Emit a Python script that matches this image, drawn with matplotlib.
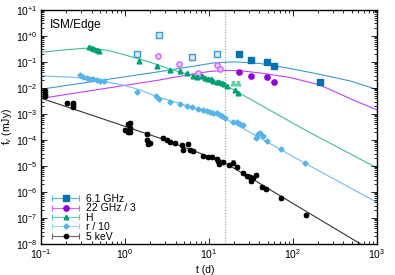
import numpy as np
import matplotlib
matplotlib.use("Agg")
import matplotlib.pyplot as plt
from matplotlib.ticker import FuncFormatter, LogLocator, NullFormatter
from matplotlib.legend_handler import HandlerErrorbar
from matplotlib.container import ErrorbarContainer

plt.rcParams["font.family"] = ["Liberation Sans", "DejaVu Sans"]
plt.rcParams["mathtext.fontset"] = "custom"
plt.rcParams["mathtext.rm"] = "Liberation Sans"
plt.rcParams["mathtext.it"] = "Liberation Sans:italic"
plt.rcParams["mathtext.bf"] = "Liberation Sans:bold"

# ---------------- data ----------------
radio6_t = [22.8, 31.6, 49, 59, 210]
radio6_f = [0.204, 0.116, 0.097, 0.072, 0.0166]
radio6_open_t = [1.38, 2.54, 6.3, 12.5]
radio6_open_f = [0.198, 1.09, 0.152, 0.198]

radio22_t = [22.8, 31.6, 49, 59]
radio22_f = [0.0412, 0.029, 0.0272, 0.0175]
radio22_open_t = [2.44, 4.45, 7.4, 12.4, 13.5]
radio22_open_f = [0.17, 0.0816, 0.036, 0.0767, 0.052]

H_t = [0.372, 0.401, 0.431, 0.46, 0.495, 1.48, 2.43, 3.43, 4.5, 5.42, 6.4, 7.26,
       8.19, 8.96, 9.81, 10.5, 11.2, 12.4, 13.3, 14.2, 15.2, 16.2, 20.4, 22.3]
H_f = [0.367, 0.337, 0.316, 0.296, 0.272, 0.112, 0.068, 0.0506, 0.0438, 0.038, 0.0297, 0.0272,
       0.029, 0.0249, 0.0228, 0.0222, 0.0186, 0.0175, 0.0166, 0.0151, 0.0143, 0.0119, 0.0084, 0.0065]
H_open_t = [19.5, 22.0]
H_open_f = [0.016, 0.016]

r_t = [0.291, 0.319, 0.35, 0.383, 0.42, 0.46, 0.504, 0.567, 1.40, 2.34, 2.56, 3.43, 4.51,
       5.42, 6.27, 7.5, 8.5, 9.4, 10.3, 11.2, 12.3, 13.5, 14.5, 15.7, 19.4, 21.3, 23.4,
       25.6, 36.8, 38.6, 40.4, 44.3, 48.6, 72, 141]
r_f = [0.0308, 0.0272, 0.0249, 0.0228, 0.0216, 0.0203, 0.0191, 0.0181, 0.00684, 0.0049,
       0.0038, 0.0029, 0.0024, 0.00204, 0.00178, 0.00153, 0.00139, 0.00134, 0.00123,
       0.00112, 0.00106, 0.00094, 0.00084, 0.00072, 0.000506, 0.00048, 0.000424,
       0.000389, 0.000116, 0.00017, 0.00018, 0.000141, 0.0000912, 0.0000437, 0.000013]

xray_t = [0.112, 0.112, 0.112, 0.202, 0.243, 0.243, 0.243, 1.0, 1.09, 1.09, 1.15, 1.15, 1.15,
          1.81, 1.81, 1.89, 1.98, 2.86, 3.14, 3.43, 3.94, 4.73, 4.94, 5.66, 5.94, 6.5,
          8.55, 9.8, 10.8, 12.35, 12.9, 13.3, 14.8, 17.5, 19.2, 21.3, 25.2, 28.5, 30.7,
          33.6, 36.2, 32.0, 42.4, 47.6, 71.3, 145]
xray_f = [7.3e-3, 5.9e-3, 4.9e-3, 2.58e-3, 2.6e-3, 2.2e-3, 1.86e-3, 2.43e-4, 4.1e-4, 1.95e-4,
          4.5e-4, 2.9e-4, 2.04e-4, 1.7e-4, 1.0e-4, 7.0e-5, 7.5e-5, 1.16e-4, 1.0e-4, 8.6e-5,
          7.9e-5, 6.4e-5, 4.1e-5, 7.0e-5, 4.1e-5, 3.8e-5, 2.43e-5, 2.16e-5, 2.16e-5, 1.86e-5,
          1.6e-5, 1.2e-5, 1.46e-5, 1.1e-5, 1.35e-5, 8.9e-6, 5.2e-6, 4.1e-6, 3.7e-6, 3.4e-6,
          4.5e-6, 2.7e-6, 1.6e-6, 1.26e-6, 6.0e-7, 1.3e-7]

# model curves
m6_t = [0.1, 0.504, 2.61, 6.27, 11.8, 20.4, 40.4, 91.8, 209, 479, 1000]
m6_f = [8.9e-3, 0.0193, 0.0424, 0.067, 0.093, 0.1, 0.0875, 0.0562, 0.0331, 0.0186, 8.75e-3]
m22_t = [0.1, 0.504, 2.61, 5.95, 10.3, 15.5, 23.4, 40.4, 91.8, 209, 520, 1000]
m22_f = [3.95e-3, 8.9e-3, 0.0203, 0.033, 0.0431, 0.0471, 0.0459, 0.0377, 0.0253, 0.013, 3.46e-3, 1.43e-3]
mH_t = [0.1, 0.193, 0.334, 0.44, 0.663, 1.38, 2.49, 3.43, 7.47, 15.5, 139, 1000]
mH_f = [0.236, 0.29, 0.336, 0.328, 0.265, 0.139, 0.0767, 0.0524, 0.0258, 0.0130, 2.43e-4, 8.4e-6]
mr_t = [0.1, 0.24, 0.383, 0.547, 0.946, 1.51, 2.47, 3.43, 7.8, 15.5, 48.5, 139, 1000]
mr_f = [0.0288, 0.0258, 0.0216, 0.0175, 0.0130, 0.0084, 0.00439, 0.0033, 0.0014, 6.8e-4, 8.6e-5, 1.27e-5, 4.0e-7]
mx_t = [0.1, 0.504, 2.61, 7.8, 15.5, 30.6, 121, 640]
mx_f = [4.0e-3, 7.0e-4, 1.16e-4, 3.08e-5, 1.30e-5, 3.6e-6, 2.5e-7, 1e-8]

t_jet = 15.5
legend_labels = ["6.1 GHz", "22 GHz / 3", "H", "r / 10", "5 keV"]

# ---------------- style ----------------
C6, C6L = "#0072B2", "#56B4E9"
C22, C22L = "#9400D3", "#CC66FF"
CH, CHL = "#009E73", "#5FD0A8"
CR, CRL = "#56B4E9", "#9AD3F2"
CX, CXL = "#000000", "#666666"

fig = plt.figure(figsize=(3.95, 2.75), dpi=100)
ax = fig.add_axes([0.104, 0.113, 0.850, 0.851])
ax.set_xscale("log")
ax.set_yscale("log")
ax.set_xlim(0.1, 1000)
ax.set_ylim(1e-8, 10)

lw = 0.8
ax.plot(m6_t, m6_f, color="#3D9AD1", lw=lw, zorder=1)
ax.plot(m22_t, m22_f, color="#C040FF", lw=lw, zorder=1)
ax.plot(mH_t, mH_f, color="#40C090", lw=lw, zorder=1)
ax.plot(mr_t, mr_f, color="#6CC0EE", lw=lw, zorder=1)
ax.plot(mx_t, mx_f, color="#333333", lw=lw, zorder=1)
ax.axvline(t_jet, color="#999999", lw=0.8, ls=(0, (1, 1.5)), zorder=0)

def eb(t, f, rel, mk, ms, col, ecol, mfc=None):
    f = np.asarray(f)
    ax.errorbar(t, f, yerr=[f * rel / (1 + rel), f * rel], fmt=mk, ms=ms, color=col,
                mfc=mfc if mfc is not None else col, mec=col, ecolor=ecol, elinewidth=0.7,
                capsize=1.5, capthick=0.7, lw=0, zorder=3)

eb(radio6_open_t, radio6_open_f, 0.12, "s", 3.8, "#3D9AD1", "#3D9AD1", mfc="#D8ECF8")
eb(radio22_open_t, radio22_open_f, 0.15, "o", 3.8, C22L, C22L, mfc="#EBC8FF")
eb(radio6_t, radio6_f, 0.12, "s", 3.8, C6, C6L)
eb(radio22_t, radio22_f, 0.15, "o", 3.8, C22, C22L)
eb(H_t, H_f, 0.1, "^", 3.4, CH, CHL)
eb(H_open_t, H_open_f, 0.15, "^", 3.4, CHL, CHL)
eb(r_t, r_f, 0.08, "D", 2.6, CR, CRL)
eb(xray_t, xray_f, 0.2, "o", 3.1, CX, CXL)

# legend with horizontal error-bar handles
handles = []
for mk, ms, col, ecol in [("s", 3.8, C6, C6L), ("o", 3.8, C22, C22L), ("^", 3.4, CH, CHL),
                          ("D", 2.6, CR, CRL), ("o", 3.1, CX, CXL)]:
    h = ax.errorbar([np.nan], [np.nan], xerr=[1.0], fmt=mk, ms=ms, color=col, mec=col,
                    ecolor=ecol, elinewidth=0.8, capsize=2.5, capthick=0.8)
    handles.append(h)
ax.legend(handles, legend_labels, loc="lower left", bbox_to_anchor=(0.03, 0.01),
          frameon=False, fontsize=7.5, handlelength=2.8, handletextpad=0.5,
          labelspacing=-0.05, borderpad=0.0, borderaxespad=0.0,
          handler_map={ErrorbarContainer: HandlerErrorbar(xerr_size=1.3)})

ax.text(0.025, 0.96, "ISM/Edge", transform=ax.transAxes, fontsize=8.5, va="top", ha="left")

# ticks
def yfmt(v, pos):
    e = int(round(np.log10(v)))
    s = "+%d" % e if e >= 0 else "%d" % e
    return r"$10^{%s}$" % s
def xfmt(v, pos):
    e = int(round(np.log10(v)))
    return r"$10^{%d}$" % e
ax.xaxis.set_major_locator(LogLocator(base=10, numticks=10))
ax.yaxis.set_major_locator(LogLocator(base=10, numticks=20))
ax.xaxis.set_minor_locator(LogLocator(base=10, subs=np.arange(2, 10), numticks=20))
ax.yaxis.set_minor_locator(LogLocator(base=10, subs=np.arange(2, 10), numticks=20))
ax.xaxis.set_major_formatter(FuncFormatter(xfmt))
ax.yaxis.set_major_formatter(FuncFormatter(yfmt))
ax.xaxis.set_minor_formatter(NullFormatter())
ax.yaxis.set_minor_formatter(NullFormatter())
ax.tick_params(which="both", direction="in", top=True, right=True, labelsize=7.5, width=0.6)
ax.tick_params(which="major", length=4, pad=2.5)
ax.tick_params(which="minor", length=2)
for s in ax.spines.values():
    s.set_linewidth(1.0)

ax.set_xlabel("t (d)", fontsize=7.5)
ax.set_ylabel(r"f$_\nu$ (mJy)", fontsize=7.5)
ax.xaxis.set_label_coords(0.49, -0.09)
ax.yaxis.set_label_coords(-0.08, 0.5)

fig.savefig("out.png", dpi=100)
